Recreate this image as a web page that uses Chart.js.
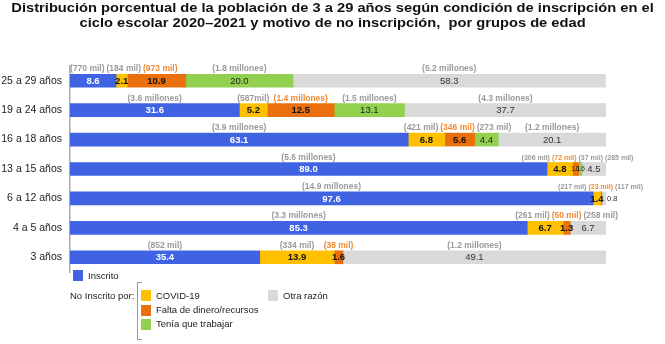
<!DOCTYPE html>
<html>
<head>
<meta charset="utf-8">
<script src="https://cdn.jsdelivr.net/npm/chart.js@4"></script>
<style>
  body { margin: 0; background: #fff; font-family: "Liberation Sans", Arial, sans-serif; }
  #wrap { position: relative; width: 665px; height: 344px; }
  #title { position: absolute; left: 0; top: 0; width: 665px; text-align: center;
           font-weight: bold; font-size: 13px; line-height: 15px; color: #111;
           transform: scaleX(1.13); transform-origin: 332px 0; }
  .sq { position: absolute; width: 10px; height: 11px; }
  .lt { position: absolute; font-size: 9.5px; line-height: 12px; color: #222; }
  #bracket { position: absolute; left: 137px; top: 282px; width: 4px; height: 56px;
             border: 1px solid #999; border-right: none; }
</style>
</head>
<body>
<div id="wrap">
  <canvas id="chart" width="665" height="344"></canvas>
  <div id="title">Distribución porcentual de la población de 3 a 29 años según condición de inscripción en el<br>ciclo escolar 2020–2021 y motivo de no inscripción,&nbsp; por grupos de edad</div>

  <div class="sq" style="left:73px; top:270px; background:#3F63E3;"></div>
  <div class="lt" style="left:88px; top:270px;">Inscrito</div>

  <div class="lt" style="left:70px; top:290px;">No Inscrito por:</div>
  <div id="bracket"></div>
  <div class="sq" style="left:141px; top:290px; background:#FFC000;"></div>
  <div class="lt" style="left:156px; top:290px;">COVID-19</div>
  <div class="sq" style="left:141px; top:305px; background:#E9700C;"></div>
  <div class="lt" style="left:156px; top:304px;">Falta de dinero/recursos</div>
  <div class="sq" style="left:141px; top:319px; background:#92D050;"></div>
  <div class="lt" style="left:156px; top:318px;">Tenía que trabajar</div>
  <div class="sq" style="left:268px; top:290px; background:#D9D9D9;"></div>
  <div class="lt" style="left:283px; top:290px;">Otra razón</div>
</div>

<script>
// age groups, top to bottom
const groups = ['25 a 29 años', '19 a 24 años', '16 a 18 años', '13 a 15 años', '6 a 12 años', '4 a 5 años', '3 años'];

// percentages
const inscrito = [8.6, 31.6, 63.1, 89.0, 97.6, 85.3, 35.4];
const covid    = [2.1, 5.2, 6.8, 4.8, 1.4, 6.7, 13.9];
const dinero   = [10.9, 12.5, 5.6, 1.1, 0.2, 1.3, 1.6];
const trabajar = [20.0, 13.1, 4.4, 0.6, 0, 0, 0];
const otra     = [58.3, 37.7, 20.1, 4.5, 0.8, 6.7, 49.1];

// absolute counts shown above each segment
const countInscrito = ['(770 mil)', '(3.6 millones)', '(3.9 millones)', '(5.6 millones)', '(14.9 millones)', '(3.3 millones)', '(852 mil)'];
const countCovid    = ['(184 mil)', '(587mil)', '(421 mil)', '(306 mil)', '(217 mil)', '(261 mil)', '(334 mil)'];
const countDinero   = ['(973 mil)', '(1.4 millones)', '(346 mil)', '(72 mil)', '(23 mil)', '(50 mil)', '(38 mil)'];
const countTrabajar = ['(1.8 millones)', '(1.5 millones)', '(273 mil)', '(37 mil)', '', '', ''];
const countOtra     = ['(5.2 millones)', '(4.3 millones)', '(1.2 millones)', '(285 mil)', '(117 mil)', '(258 mil)', '(1.2 millones)'];

const FONT = '"Liberation Sans", Arial, sans-serif';

const datasets = [
    { label: 'Inscrito', data: inscrito, backgroundColor: '#3F63E3', counts: countInscrito, valColor: '#fff', valBold: true, countColor: '#9a9a9a' },
    { label: 'COVID-19', data: covid, backgroundColor: '#FFC000', counts: countCovid, valColor: '#111', valBold: true, countColor: '#9a9a9a' },
    { label: 'Falta de dinero/recursos', data: dinero, backgroundColor: '#E9700C', counts: countDinero, valColor: '#111', valBold: true, countColor: '#F08A33' },
    { label: 'Tenía que trabajar', data: trabajar, backgroundColor: '#92D050', counts: countTrabajar, valColor: '#222', valBold: false, countColor: '#9a9a9a' },
    { label: 'Otra razón', data: otra, backgroundColor: '#D9D9D9', counts: countOtra, valColor: '#333', valBold: false, countColor: '#9a9a9a' }
];

// draws the value inside each segment and the counts above
const labelPlugin = {
    id: 'segLabels',
    afterDatasetsDraw(chart) {
        const ctx = chart.ctx;
        const area = chart.chartArea;
        ctx.save();

        groups.forEach((g, i) => {
            const items = [];
            const blueEnd = chart.getDatasetMeta(0).data[i].x;
            const crowded = (area.right - blueEnd) < 65;
            const last = chart.data.datasets.length - 1;

            chart.data.datasets.forEach((ds, d) => {
                const el = chart.getDatasetMeta(d).data[i];
                const v = ds.data[i];
                const cx = (el.x + el.base) / 2;
                const segW = Math.abs(el.x - el.base);

                // value inside bar (or just past the end if the last piece is too thin)
                if (v >= 0.5) {
                    const small = v < 1.2;
                    ctx.font = (ds.valBold && !small ? 'bold ' : '') + (small ? 6.5 : 9.5) + 'px ' + FONT;
                    ctx.fillStyle = ds.valColor;
                    ctx.textBaseline = 'middle';
                    if (d === last && segW < 8) {
                        ctx.font = '7.5px ' + FONT;
                        ctx.textAlign = 'left';
                        ctx.fillText(v.toFixed(1), el.x + 1, el.y + 0.5);
                    } else {
                        ctx.textAlign = 'center';
                        ctx.fillText(v.toFixed(1), cx, el.y + 0.5);
                    }
                }

                // count above bar
                const txt = ds.counts[i];
                if (txt) {
                    const size = (crowded && d > 0) ? 7 : 8.5;
                    const font = 'bold ' + size + 'px ' + FONT;
                    ctx.font = font;
                    items.push({ txt, x: cx, w: ctx.measureText(txt).width, font, color: ds.countColor, top: el.y - el.height / 2 });
                }
            });

            // push overlapping labels apart
            const gap = 2;
            for (let it = 0; it < 60; it++) {
                for (let j = 1; j < items.length; j++) {
                    const a = items[j - 1], b = items[j];
                    const ov = (a.x + a.w / 2 + gap) - (b.x - b.w / 2);
                    if (ov > 0) { a.x -= ov / 2; b.x += ov / 2; }
                }
                if (items.length && items[0].x - items[0].w / 2 < area.left) {
                    items[0].x = area.left + items[0].w / 2;
                }
            }

            items.forEach(it => {
                ctx.font = it.font;
                ctx.fillStyle = it.color;
                ctx.textAlign = 'center';
                ctx.textBaseline = 'alphabetic';
                ctx.fillText(it.txt, it.x, it.top - 3);
            });
        });

        ctx.restore();
    }
};

new Chart(document.getElementById('chart').getContext('2d'), {
    type: 'bar',
    data: { labels: groups, datasets: datasets },
    options: {
        indexAxis: 'y',
        responsive: false,
        animation: false,
        datasets: { bar: { barThickness: 13 } },
        layout: { padding: { left: 0, right: 59, top: 66, bottom: 72 } },
        plugins: { legend: { display: false }, tooltip: { enabled: false } },
        scales: {
            x: { stacked: true, min: 0, max: 100, display: false },
            y: {
                stacked: true,
                afterFit: (s) => { s.width = 70; },
                grid: { display: false, drawTicks: false },
                border: { display: true, color: '#aaa', width: 1.5 },
                ticks: { color: '#222', font: { family: FONT, size: 10.5 }, padding: 8 }
            }
        }
    },
    plugins: [labelPlugin]
});
</script>
</body>
</html>
